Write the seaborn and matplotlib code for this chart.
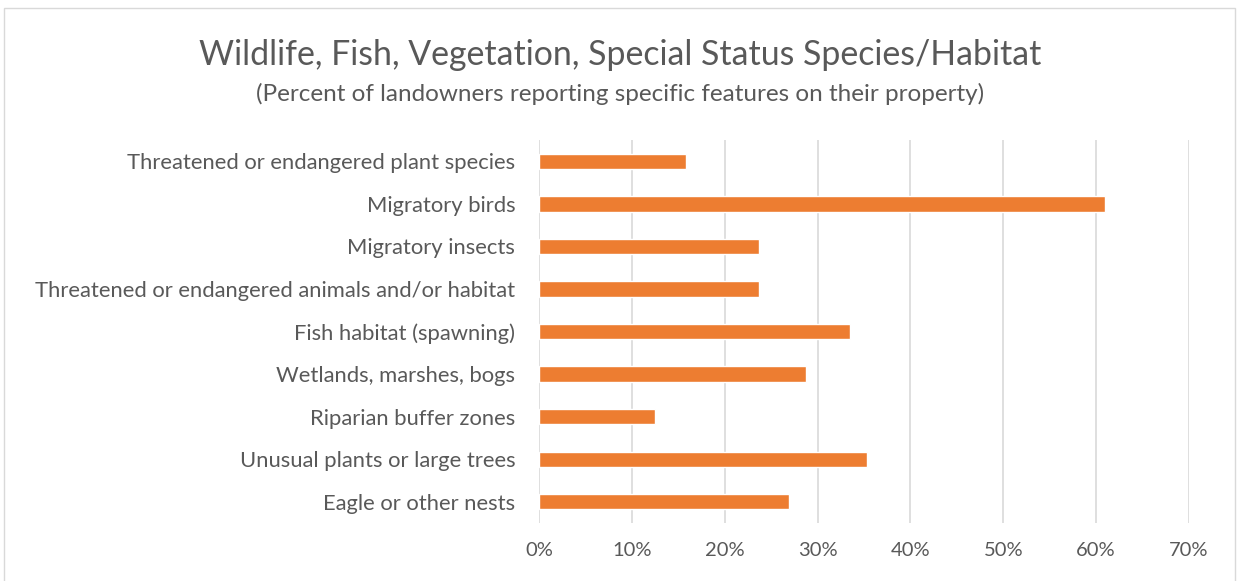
import matplotlib
matplotlib.use('Agg')
import matplotlib.pyplot as plt
import seaborn as sns
import pandas as pd
from matplotlib.ticker import PercentFormatter

categories = [
    'Threatened or endangered plant species',
    'Migratory birds',
    'Migratory insects',
    'Threatened or endangered animals and/or habitat',
    'Fish habitat (spawning)',
    'Wetlands, marshes, bogs',
    'Riparian buffer zones',
    'Unusual plants or large trees',
    'Eagle or other nests',
]
percent = [15.8, 61.0, 23.7, 23.7, 33.5, 28.8, 12.5, 35.3, 26.9]

df = pd.DataFrame({'feature': categories, 'pct': percent})

sns.set_style('white')
plt.rcParams['font.family'] = ['Lato', 'DejaVu Sans']
grey = '#595959'

fig = plt.figure(figsize=(12.41, 5.81), dpi=100)
ax = fig.add_axes([0.4343, 0.0998, 0.5238, 0.6592])

sns.barplot(data=df, x='pct', y='feature', color='#ED7D31', width=0.36,
            saturation=1, ax=ax)

ax.set_xlim(0, 70)
ax.set_xticks(range(0, 71, 10))
ax.xaxis.set_major_formatter(PercentFormatter(decimals=0))
ax.grid(axis='x', color='#D9D9D9', linewidth=1.2)
ax.set_axisbelow(True)
for s in ax.spines.values():
    s.set_visible(False)
ax.set_xlabel('')
ax.set_ylabel('')
ax.tick_params(axis='both', length=0, colors=grey)
ax.tick_params(axis='x', labelsize=14.5, pad=14)
ax.tick_params(axis='y', labelsize=15.8, pad=17)

fig.text(0.5, 0.905, 'Wildlife, Fish, Vegetation, Special Status Species/Habitat',
         ha='center', va='center', fontsize=24.4, color=grey)
fig.text(0.5, 0.838, '(Percent of landowners reporting specific features on their property)',
         ha='center', va='center', fontsize=17.5, color=grey)

fig.patches.append(plt.Rectangle((0.003, -0.01), 0.992, 0.997, transform=fig.transFigure,
                                 fill=False, edgecolor='#D9D9D9', linewidth=1))

fig.savefig('out.png', dpi=100, facecolor='white')
